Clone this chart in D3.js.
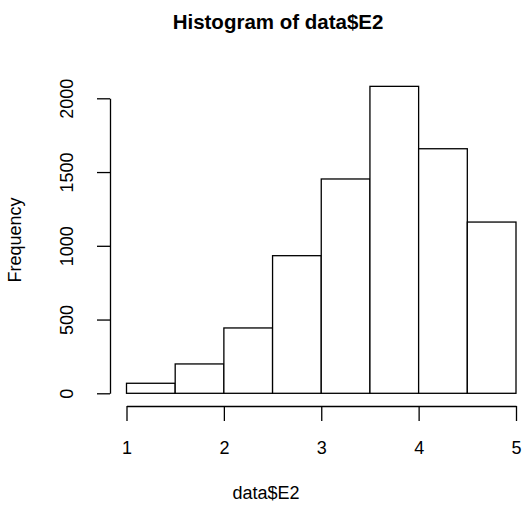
<!DOCTYPE html>
<html>
<head>
<meta charset="utf-8">
<script src="https://cdn.jsdelivr.net/npm/d3@7"></script>
<style>
  body { margin: 0; background: #fff; }
  svg { display: block; }
  text { font-family: "Liberation Sans", Arial, Helvetica, sans-serif; fill: #000; }
</style>
</head>
<body>
<svg id="chart" width="523" height="517"></svg>
<script>
const binStarts = [1, 1.5, 2, 2.5, 3, 3.5, 4, 4.5];
const binWidth = 0.5;
const counts = [68, 199, 443, 933, 1453, 2081, 1658, 1161];
const xTicks = [1, 2, 3, 4, 5];
const yTicks = [0, 500, 1000, 1500, 2000];
const title = "Histogram of data$E2";
const xLabel = "data$E2";
const yLabel = "Frequency";

const svg = d3.select("#chart");
const x = d3.scaleLinear().domain([1, 5]).range([126.5, 516]);
const y = d3.scaleLinear().domain([0, 2000]).range([393.3, 98.3]);

// bars
svg.append("g").selectAll("rect")
  .data(binStarts.map((s, i) => ({ s, c: counts[i] })))
  .join("rect")
  .attr("x", d => x(d.s))
  .attr("y", d => y(d.c))
  .attr("width", d => x(d.s + binWidth) - x(d.s))
  .attr("height", d => y(0) - y(d.c))
  .attr("fill", "#fff")
  .attr("stroke", "#000")
  .attr("stroke-width", 1.3);

// x axis
const xAxis = svg.append("g")
  .attr("transform", "translate(0,406)")
  .call(d3.axisBottom(x).tickValues(xTicks).tickFormat(d3.format("d"))
    .tickSize(15).tickSizeOuter(0).tickPadding(20));
xAxis.selectAll("path, line").attr("stroke", "#000").attr("stroke-width", 1.3);
xAxis.selectAll("text").style("font-size", "18px");

// y axis
const yAxis = svg.append("g")
  .attr("transform", "translate(110,0)")
  .call(d3.axisLeft(y).tickValues(yTicks).tickFormat(d3.format("d"))
    .tickSize(13).tickSizeOuter(0).tickPadding(0));
yAxis.selectAll("path, line").attr("stroke", "#000").attr("stroke-width", 1.3);
yAxis.selectAll("text")
  .style("font-size", "18px")
  .attr("x", null).attr("dy", null)
  .attr("text-anchor", "middle")
  .attr("transform", "translate(-43,0) rotate(-90)")
  .attr("y", 0).attr("dy", "0.35em");

// title
svg.append("text")
  .attr("x", 278).attr("y", 29)
  .attr("text-anchor", "middle")
  .style("font-size", "20.5px").style("font-weight", "bold")
  .text(title);

// x label
svg.append("text")
  .attr("x", 266).attr("y", 499)
  .attr("text-anchor", "middle")
  .style("font-size", "18px")
  .text(xLabel);

// y label
svg.append("text")
  .attr("transform", "translate(21,240) rotate(-90)")
  .attr("text-anchor", "middle")
  .style("font-size", "18px")
  .text(yLabel);
</script>
</body>
</html>
